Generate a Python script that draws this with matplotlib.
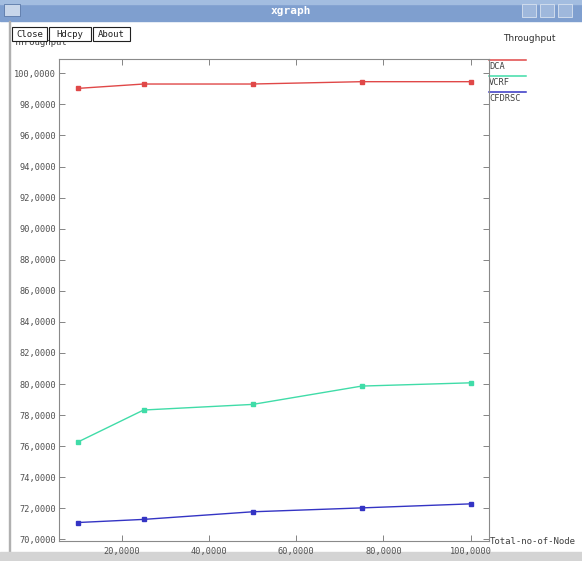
import matplotlib.pyplot as plt
from matplotlib.patches import Rectangle

# throughput vs number of nodes, three routing schemes
nodes = [10, 25, 50, 75, 100]
dca = [99.03, 99.31, 99.31, 99.46, 99.46]
vcrf = [76.28, 78.33, 78.69, 79.87, 80.08]
cfdrsc = [71.09, 71.29, 71.78, 72.03, 72.29]

series_names = ['DCA', 'VCRF', 'CFDRSC']
series_colors = ['#e04848', '#40dca8', '#3434c4']
x_ticks = [20, 40, 60, 80, 100]
y_ticks = list(range(70, 101, 2))

W, H = 582, 561
fig = plt.figure(figsize=(W / 100, H / 100), dpi=100)
fig.patch.set_facecolor('white')

# window decoration drawn in pixel coordinates
chrome = fig.add_axes([0, 0, 1, 1], zorder=0)
chrome.set_xlim(0, W)
chrome.set_ylim(H, 0)
chrome.axis('off')

chrome.add_patch(Rectangle((0, 0), W, 21, color='#7f9fcf'))
chrome.add_patch(Rectangle((0, 0), W, 4, color='#a3bde0'))
chrome.add_patch(Rectangle((4, 4), 16, 12, color='#c8d6ea', ec='#5a78a8', lw=0.6))
for bx in (522, 540, 558):
    chrome.add_patch(Rectangle((bx, 4), 14, 13, fc='#9fb8dc', ec='#d8e2f0', lw=0.6))
chrome.text(291, 11, 'xgraph', color='white', fontsize=8, ha='center', va='center',
            family='DejaVu Sans Mono', weight='bold')

chrome.add_patch(Rectangle((9, 21), 1.2, 531, color='#b0b0b0'))
chrome.add_patch(Rectangle((0, 552), W, 9, color='#d4d4d4'))

# y label sits partly under the button row
chrome.text(14, 42, 'Throughput', fontsize=6.5, family='DejaVu Sans Mono', color='#404040',
            va='center', zorder=2)
for (bx, bw, label) in [(12, 35, 'Close'), (49, 42, 'Hdcpy'), (93, 37, 'About')]:
    chrome.add_patch(Rectangle((bx, 27), bw, 14, fc='white', ec='#202020', lw=0.8, zorder=3))
    chrome.text(bx + bw / 2, 34, label, fontsize=6.5, family='DejaVu Sans Mono',
                ha='center', va='center', color='#202020', zorder=4)

chrome.text(503, 38, 'Throughput', fontsize=6.5, family='DejaVu Sans', color='#303030',
            va='center')
chrome.text(490, 541, 'Total-no-of-Node', fontsize=6.5, family='DejaVu Sans Mono',
            color='#404040', va='center')

# legend at the right edge
for i, (name, col) in enumerate(zip(series_names, series_colors)):
    ly = 60 + i * 16
    chrome.plot([489, 526], [ly, ly], color=col, lw=1.1)
    chrome.text(489, ly + 6, name, fontsize=6.2, family='DejaVu Sans Mono',
                color='#404040', va='center')

# plot area
ax = fig.add_axes([59 / W, 1 - 541 / H, (489 - 59) / W, (541 - 59) / H], zorder=1)
ax.set_facecolor('none')
for ys, col in zip([dca, vcrf, cfdrsc], series_colors):
    ax.plot(nodes, ys, color=col, lw=1.0, marker='s', ms=3.0, mfc=col, mec=col)

ax.set_xlim(5.6, 104.2)
ax.set_ylim(69.9, 100.92)
ax.set_xticks(x_ticks)
ax.set_yticks(y_ticks)
ax.set_xticklabels([f'{v:.4f}'.replace('.', ',') for v in x_ticks])
ax.set_yticklabels([f'{v:.4f}'.replace('.', ',') for v in y_ticks])
ax.tick_params(direction='in', length=4, width=0.6, color='#707070', labelsize=6.2,
               labelcolor='#505050', top=True, right=True, pad=2)
ax.tick_params(axis='x', pad=4)
for lab in ax.get_xticklabels() + ax.get_yticklabels():
    lab.set_family('DejaVu Sans Mono')
for sp in ax.spines.values():
    sp.set_color('#8a8a8a')
    sp.set_linewidth(0.8)

fig.savefig('out.png', dpi=100)
